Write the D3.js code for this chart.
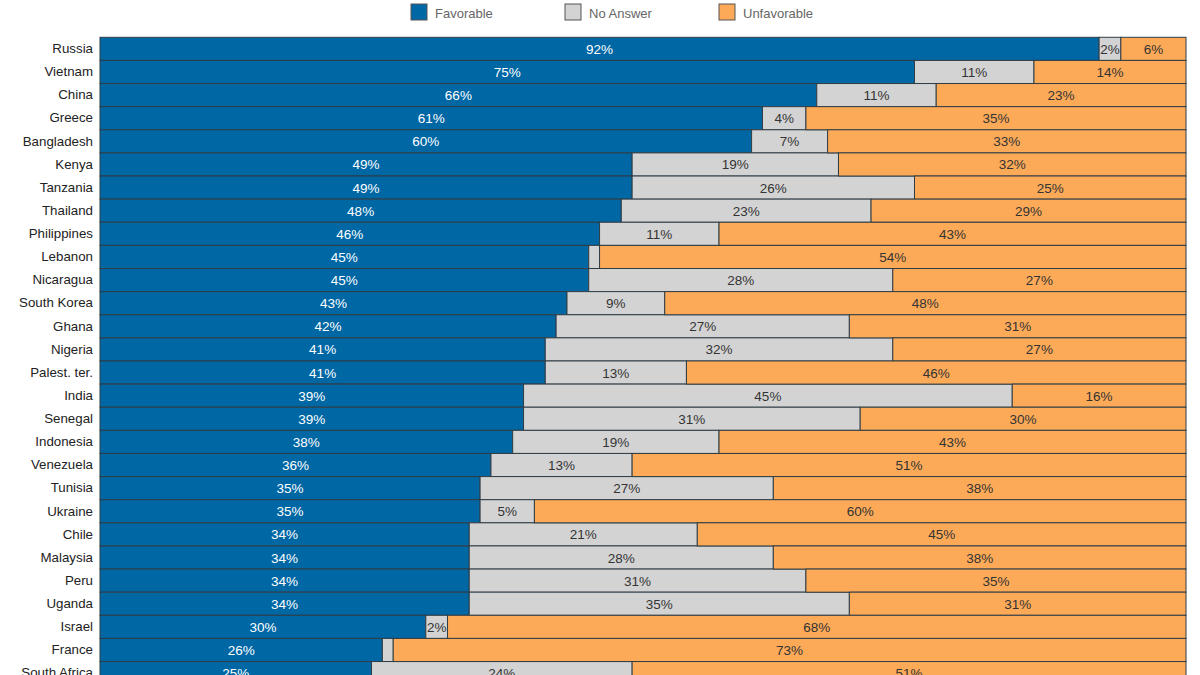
<!DOCTYPE html>
<html>
<head>
<meta charset="utf-8">
<script src="https://cdn.jsdelivr.net/npm/d3@7"></script>
<style>
  html, body { margin: 0; padding: 0; background: #fff; overflow: hidden; }
  svg { display: block; font-family: "Liberation Sans", Arial, sans-serif; }
</style>
</head>
<body>
<svg id="chart" width="1200" height="700"></svg>
<script>
const countries = ["Russia","Vietnam","China","Greece","Bangladesh","Kenya","Tanzania","Thailand","Philippines","Lebanon","Nicaragua","South Korea","Ghana","Nigeria","Palest. ter.","India","Senegal","Indonesia","Venezuela","Tunisia","Ukraine","Chile","Malaysia","Peru","Uganda","Israel","France","South Africa"];
const favorable   = [92,75,66,61,60,49,49,48,46,45,45,43,42,41,41,39,39,38,36,35,35,34,34,34,34,30,26,25];
const noAnswer    = [2,11,11,4,7,19,26,23,11,1,28,9,27,32,13,45,31,19,13,27,5,21,28,31,35,2,1,24];
const unfavorable = [6,14,23,35,33,32,25,29,43,54,27,48,31,27,46,16,30,43,51,38,60,45,38,35,31,68,73,51];
const seriesNames = ["Favorable","No Answer","Unfavorable"];
const seriesColors = ["#0067a5","#d3d3d3","#fdaa58"];
const labelColors = ["#ffffff","#333333","#333333"];

const svg = d3.select("#chart");
const mLeft = 100, mRight = 1186, mTop = 37.3, rowH = 23.12;

const rows = countries.map((c, i) => ({country: c, "Favorable": favorable[i], "No Answer": noAnswer[i], "Unfavorable": unfavorable[i]}));
const stack = d3.stack().keys(seriesNames)(rows);

const x = d3.scaleLinear().domain([0, 100]).range([mLeft, mRight]);
const y = d3.scaleBand().domain(countries).range([mTop, mTop + rowH * countries.length]).padding(0);

const groups = svg.selectAll("g.series").data(stack).join("g").attr("class", "series");
groups.each(function(s, si) {
  const g = d3.select(this);
  g.selectAll("rect").data(s).join("rect")
    .attr("x", d => x(d[0]))
    .attr("y", d => y(d.data.country))
    .attr("width", d => x(d[1]) - x(d[0]))
    .attr("height", y.bandwidth())
    .attr("fill", seriesColors[si])
    .attr("stroke", "#2f3d45")
    .attr("stroke-width", 1);
});
groups.each(function(s, si) {
  const g = d3.select(this);
  g.selectAll("text").data(s.filter(d => d[1] - d[0] >= 2)).join("text")
    .attr("x", d => (x(d[0]) + x(d[1])) / 2)
    .attr("y", d => y(d.data.country) + y.bandwidth() / 2 + 5)
    .attr("text-anchor", "middle")
    .attr("font-size", 13.5)
    .attr("fill", labelColors[si])
    .text(d => Math.round(d[1] - d[0]) + "%");
});

// country axis
const yAxis = svg.append("g").attr("transform", `translate(${mLeft},0)`)
  .call(d3.axisLeft(y).tickSize(0).tickPadding(7));
yAxis.select(".domain").remove();
yAxis.selectAll("text").attr("font-size", 13.3).attr("fill", "#222")
  .attr("font-family", "'Liberation Sans', Arial, sans-serif");

// legend
const legend = svg.append("g");
seriesNames.forEach((n, i) => {
  const lx = 411 + i * 154;
  legend.append("rect").attr("x", lx).attr("y", 4).attr("width", 16).attr("height", 16)
    .attr("fill", seriesColors[i]).attr("stroke", "#555").attr("stroke-width", 1);
  legend.append("text").attr("x", lx + 24).attr("y", 17.5).attr("font-size", 13)
    .attr("fill", "#666").text(n);
});
</script>
</body>
</html>
